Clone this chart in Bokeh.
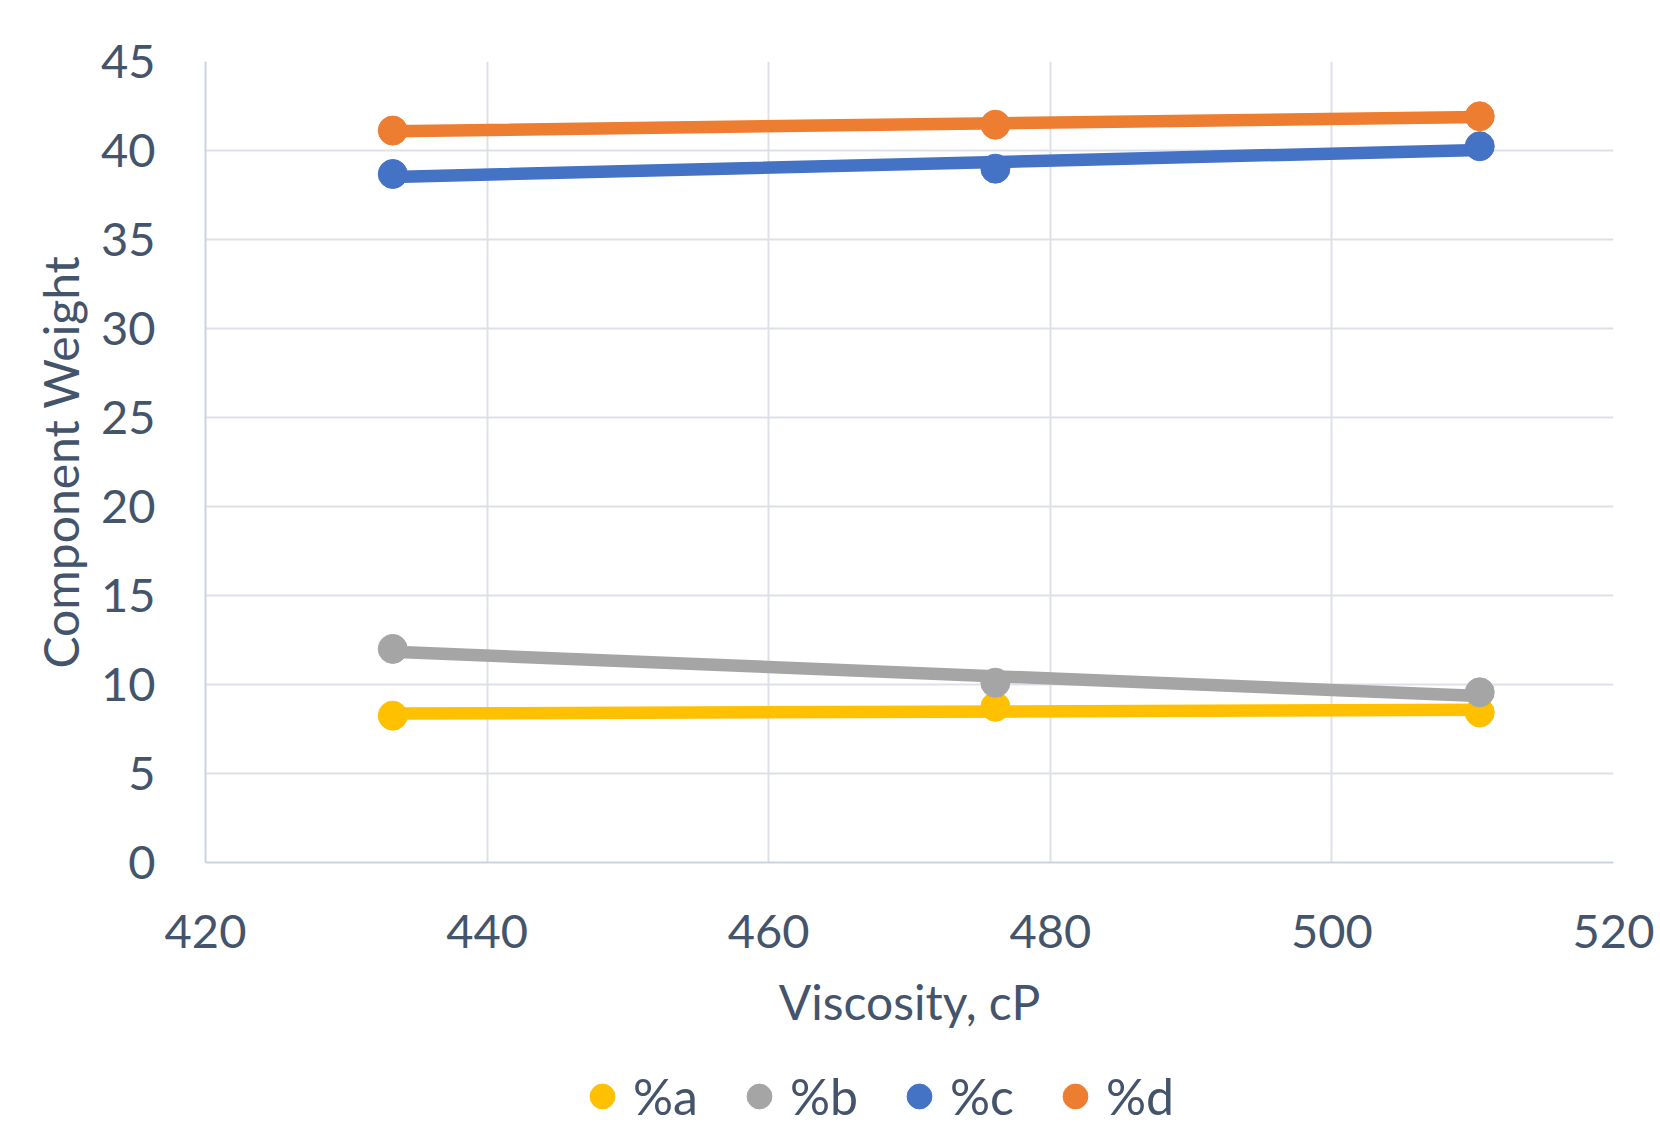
import numpy as np
from bokeh.plotting import figure
from bokeh.models import Range1d, FixedTicker, Legend, LegendItem
from bokeh.layouts import column
from bokeh.embed import file_html
from bokeh.resources import INLINE

# ---- data ----
viscosity = [433.3, 476.1, 510.5]
pct_a = [8.25, 8.75, 8.43]
pct_b = [12.0, 10.1, 9.56]
pct_c = [38.68, 38.98, 40.24]
pct_d = [41.12, 41.45, 41.92]
series_names = ["%a", "%b", "%c", "%d"]
series_values = [pct_a, pct_b, pct_c, pct_d]
series_colors = ["#FFC000", "#A5A5A5", "#4472C4", "#ED7D31"]
x_ticks = [420, 440, 460, 480, 500, 520]
y_ticks = [0, 5, 10, 15, 20, 25, 30, 35, 40, 45]

FONT = "Lato"
TXT = "#44546A"
GRID = "#DDE1E7"
W = 1656

p = figure(width=W, height=1058, output_backend="svg", toolbar_location=None,
           x_range=Range1d(420, 520), y_range=Range1d(0, 45),
           min_border_left=205, min_border_right=43, min_border_top=61, min_border_bottom=196)
p.outline_line_color = None
p.background_fill_color = "white"
p.border_fill_color = "white"

p.xaxis.ticker = FixedTicker(ticks=x_ticks)
p.yaxis.ticker = FixedTicker(ticks=y_ticks)
for ax in (p.xaxis, p.yaxis):
    ax.major_tick_line_color = None
    ax.minor_tick_line_color = None
    ax.major_tick_out = 0
    ax.major_tick_in = 0
    ax.axis_line_color = "#CDD3DB"
    ax.axis_line_width = 2
    ax.major_label_text_font = FONT
    ax.major_label_text_font_size = "47px"
    ax.major_label_text_color = TXT
    ax.axis_label_text_font = FONT
    ax.axis_label_text_font_size = "48px"
    ax.axis_label_text_color = TXT
    ax.axis_label_text_font_style = "normal"
p.xaxis.axis_label = "Viscosity, cP"
p.yaxis.axis_label = "Component Weight"
p.yaxis.major_label_standoff = 50
p.xaxis.major_label_standoff = 52
p.yaxis.axis_label_standoff = 9
p.xaxis.axis_label_standoff = 22

p.xgrid.ticker = FixedTicker(ticks=x_ticks)
p.ygrid.ticker = FixedTicker(ticks=y_ticks)
p.grid.grid_line_color = GRID
p.grid.grid_line_width = 2

xs = np.array(viscosity)
for name, vals, col in zip(series_names, series_values, series_colors):
    k, b0 = np.polyfit(xs, np.array(vals), 1)
    fx = [xs.min(), xs.max()]
    fy = [k * v + b0 for v in fx]
    p.line(fx, fy, line_color=col, line_width=12.5, line_cap="round")
    p.scatter(viscosity, vals, size=29, fill_color=col, line_color=col, marker="circle")

# ---- legend strip below the chart ----
lg = figure(width=W, height=65, output_backend="svg", toolbar_location=None,
            x_range=Range1d(0, 1), y_range=Range1d(0, 1),
            x_axis_location=None, y_axis_location=None,
            min_border_left=205, min_border_right=43, min_border_top=11, min_border_bottom=0)
lg.grid.visible = False
lg.outline_line_color = None
items = []
for name, vals, col in zip(series_names, series_values, series_colors):
    r = lg.scatter(viscosity, vals, size=29, fill_color=col, line_color=col, marker="circle")
    items.append(LegendItem(label=name, renderers=[r]))
legend = Legend(items=items, orientation="horizontal", location="center_left",
                glyph_width=62, glyph_height=62, label_standoff=0, spacing=30,
                padding=0, margin=366, border_line_color=None, background_fill_alpha=0,
                label_text_font=FONT, label_text_font_size="50px", label_text_color=TXT)
lg.add_layout(legend, "center")

layout = column(p, lg, spacing=0)
open("out.html", "w").write(file_html(layout, INLINE))
